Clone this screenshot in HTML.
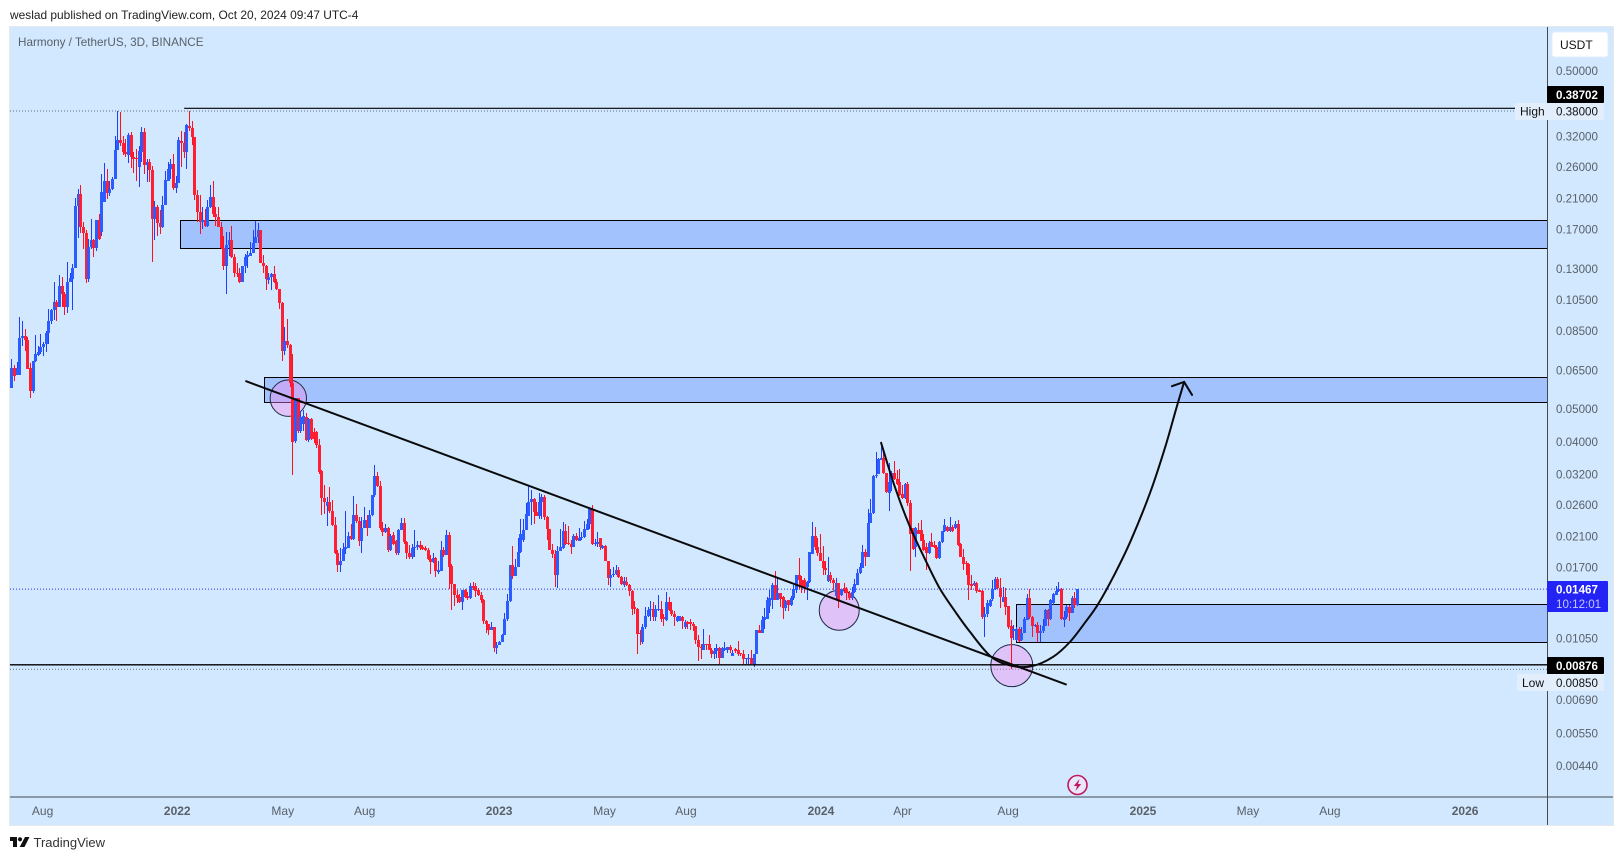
<!DOCTYPE html>
<html lang="en">
<head>
<meta charset="utf-8">
<title>Harmony / TetherUS chart</title>
<style>
html,body{margin:0;padding:0;background:#fff;width:1623px;height:860px;overflow:hidden}
svg{display:block;font-family:"Liberation Sans",sans-serif}
</style>
</head>
<body>
<svg id="chart" width="1623" height="860" viewBox="0 0 1623 860" xmlns="http://www.w3.org/2000/svg">
  <defs><clipPath id="pane"><rect x="10" y="27" width="1537" height="770"/></clipPath></defs>
  <rect x="0" y="0" width="1623" height="860" fill="#ffffff"/>
  <text x="10" y="19" font-size="11.93" fill="#222">weslad published on TradingView.com, Oct 20, 2024 09:47 UTC-4</text>
  <rect x="9.5" y="26.5" width="1604" height="799" fill="#d1e8ff" stroke="#e6e8ea" stroke-width="1"/>
  <g id="pane-layer" clip-path="url(#pane)"></g>
  <text x="18" y="46" font-size="11.7" fill="#5a6068">Harmony / TetherUS, 3D, BINANCE</text>
  <line x1="10" y1="797" x2="1613" y2="797" stroke="#444a52" stroke-width="1"/>
  <line x1="1547.5" y1="27" x2="1547.5" y2="825" stroke="#444a52" stroke-width="1"/>
  <g id="axis-layer"></g>
  <rect x="1552" y="32" width="56" height="25" rx="3" fill="#ffffff" stroke="#e4eefb"/>
  <text x="1560" y="49" font-size="12" fill="#111">USDT</text>

  <rect x="1547" y="86" width="57" height="17" fill="#000" rx="1"/>
  <text x="1556" y="99" font-size="11.6" font-weight="bold" fill="#fff">0.38702</text>
  <rect x="1515" y="103" width="89" height="17" fill="#e3eefd"/>
  <text x="1520" y="115.5" font-size="12" fill="#111">High</text>
  <text x="1556" y="115.5" font-size="11.6" fill="#111">0.38000</text>

  <rect x="1547" y="581" width="61" height="31" fill="#2323f5" rx="1"/>
  <text x="1556" y="593.5" font-size="11.6" font-weight="bold" fill="#fff">0.01467</text>
  <text x="1556" y="608" font-size="11.6" fill="#c3c8ff">10:12:01</text>

  <rect x="1547" y="657" width="57" height="17" fill="#000" rx="1"/>
  <text x="1556" y="670" font-size="11.6" font-weight="bold" fill="#fff">0.00876</text>
  <rect x="1517" y="674" width="87" height="17" fill="#e3eefd"/>
  <text x="1522" y="687" font-size="12" fill="#111">Low</text>
  <text x="1556" y="687" font-size="11.6" fill="#111">0.00850</text>

  <g>
    <circle cx="1077.5" cy="785" r="9.5" fill="#e8e6fb" stroke="#c2185b" stroke-width="1.6"/>
    <path d="M1079.5 779 L1073.8 786 L1077 786 L1075.5 791 L1081.2 784 L1078 784 Z" fill="#c2185b"/>
  </g>

  <g>
    <path d="M10 837 H17 V847 H13 V841 H10 Z" fill="#111"/>
    <circle cx="20" cy="839.3" r="2.1" fill="#111"/>
    <path d="M25 837 H29.5 L24.5 847 H19.7 Z" fill="#111"/>
    <text x="33.5" y="847" font-size="13" fill="#333">TradingView</text>
  </g>
</svg>
<script>
const opens=[
.0575,.0660,.0630,.0630,.0809,.0820,.0797,.0660,.0566,.0695,
.0720,.0735,.0760,.0777,.0837,.0909,.0979,.1034,.1003,.1155,
.1093,.0999,.1185,.1212,.1305,.1994,.2156,.1722,.1655,.1209,
.1507,.1578,.1500,.1810,.1670,.2050,.2360,.2170,.2230,.2388,
.2908,.3112,.3050,.2880,.2815,.3230,.2770,.2755,.2600,.2880,
.3290,.2625,.2680,.2544,.1820,.1975,.1770,.1722,.2000,.2360,
.2555,.2650,.2245,.2323,.3105,.3065,.2880,.3440,.3385,.3175,
.2145,.1908,.1790,.1810,.1740,.1975,.2110,.1886,.1845,.1730,
.1500,.1325,.1530,.1578,.1405,.1265,.1260,.1188,.1320,.1405,
.1415,.1445,.1550,.1610,.1685,.1350,.1325,.1204,.1226,.1253,
.1188,.1130,.1026,.0740,.0795,.0775,.0596,.0403,.0537,.0429,
.0452,.0473,.0405,.0466,.0427,.0427,.0392,.0327,.0272,.0258,
.0266,.0249,.0227,.0188,.0173,.0177,.0193,.0194,.0211,.0206,
.0243,.0233,.0203,.0222,.0235,.0223,.0243,.0278,.0316,.0295,
.0222,.0216,.0222,.0191,.0212,.0203,.0187,.0219,.0230,.0202,
.0187,.0182,.0194,.0195,.0198,.0195,.0194,.0191,.0180,.0176,
.0181,.0165,.0166,.0192,.0185,.0212,.0172,.0152,.0141,.0139,
.0134,.0146,.0140,.0138,.0150,.0150,.0146,.0141,.0136,.0118,
.0116,.0111,.0113,.0098,.0100,.0102,.0107,.0120,.0135,.0173,
.0160,.0171,.0189,.0205,.0219,.0242,.0266,.0271,.0248,.0242,
.0265,.0275,.0239,.0221,.0192,.0186,.0161,.0190,.0194,.0218,
.0201,.0200,.0195,.0210,.0204,.0207,.0209,.0220,.0228,.0253,
.0199,.0200,.0207,.0194,.0197,.0178,.0158,.0161,.0163,.0167,
.0159,.0151,.0154,.0151,.0145,.0130,.0128,.0109,.0102,.0113,
.0122,.0127,.0128,.0121,.0127,.0128,.0121,.0119,.0134,.0127,
.0124,.0118,.0118,.0121,.0113,.0117,.0117,.0116,.0114,.0104,
.0099,.0097,.0101,.0101,.0097,.0094,.0096,.0098,.0092,.0097,
.0097,.0099,.0093,.00975,.0097,.0095,.0094,.0091,.0091,.0092,
.0088,.0094,.0111,.0109,.0119,.0120,.0131,.0136,.0151,.0136,
.0143,.0139,.0129,.0136,.0132,.0138,.0146,.0161,.0156,.0156,
.0149,.0154,.0186,.0211,.0195,.0188,.0177,.0169,.0155,.0161,
.0156,.0140,.0153,.0141,.0148,.0147,.0143,.0138,.0144,.0151,
.0164,.0169,.0189,.0183,.0230,.0247,.0317,.0322,.0354,.0358,
.0323,.0283,.0305,.0324,.0310,.0305,.0281,.0272,.0300,.0263,
.0222,.0196,.0220,.0220,.0205,.0195,.0187,.0202,.0198,.0196,
.0181,.0202,.0218,.0224,.0218,.0224,.0222,.0229,.0199,.0183,
.0175,.0174,.0152,.0151,.0153,.0146,.0145,.0121,.0124,.0131,
.0137,.0147,.0157,.0148,.0134,.0139,.0131,.0114,.0110,.0104,
.0112,.0104,.0109,.0119,.0138,.0121,.0114,.0115,.0109,.0110,
.0114,.0127,.0120,.0133,.0141,.0145,.0147,.0119,.0121,.0130,
.0125,.0138,.0132];
const closes=[
.0660,.0625,.0660,.0809,.0820,.0797,.0658,.0566,.0695,.0726,
.0735,.0760,.0777,.0837,.0909,.0979,.1034,.1003,.1155,.1093,
.0999,.1185,.1218,.1305,.1994,.2156,.1722,.1655,.1209,.1507,
.1578,.1500,.1810,.1585,.2185,.2360,.2170,.2230,.2388,.2908,
.3112,.3050,.2880,.2830,.3230,.2770,.2740,.2740,.2890,.3290,
.2625,.2680,.2544,.1820,.1975,.1770,.1722,.2000,.2377,.2555,
.2650,.2245,.2323,.3112,.3060,.2880,.3455,.3385,.3175,.2145,
.1908,.1790,.1810,.1740,.1975,.2110,.1886,.1845,.1730,.1500,
.1325,.1530,.1578,.1405,.1265,.1253,.1188,.1325,.1405,.1425,
.1445,.1550,.1610,.1685,.1350,.1325,.1209,.1226,.1253,.1188,
.1130,.1026,.0740,.0795,.0775,.0596,.0400,.0537,.0429,.0473,
.0475,.0405,.0466,.0407,.0407,.0392,.0326,.0272,.0266,.0266,
.0249,.0227,.0188,.0173,.0177,.0193,.0195,.0211,.0206,.0243,
.0233,.0203,.0222,.0235,.0223,.0243,.0278,.0316,.0295,.0222,
.0216,.0222,.0191,.0211,.0200,.0187,.0219,.0230,.0202,.0187,
.0182,.0194,.0196,.0198,.0194,.0193,.0191,.0180,.0176,.0181,
.0166,.0167,.0192,.0185,.0212,.0171,.0152,.0141,.0138,.0134,
.0146,.0139,.0138,.0150,.0148,.0145,.0141,.0136,.0118,.0116,
.0111,.0113,.0098,.0100,.0102,.0107,.0120,.0135,.0173,.0160,
.0171,.0189,.0213,.0219,.0244,.0266,.0271,.0248,.0242,.0265,
.0275,.0239,.0221,.0192,.0186,.0161,.0190,.0195,.0218,.0200,
.0200,.0195,.0210,.0205,.0207,.0209,.0221,.0229,.0253,.0199,
.0201,.0202,.0195,.0197,.0178,.0158,.0161,.0163,.0167,.0159,
.0152,.0155,.0151,.0145,.0128,.0128,.0108,.0108,.0113,.0122,
.0127,.0128,.0121,.0128,.0128,.0120,.0120,.0134,.0127,.0124,
.0121,.0121,.0122,.0118,.0117,.0116,.0116,.0114,.0104,.0099,
.0098,.0101,.0100,.0097,.0094,.0096,.0098,.0092,.0098,.0098,
.0099,.0097,.0095,.00965,.0094,.0094,.0091,.0092,.0092,.0088,
.0094,.0111,.0109,.0119,.0121,.0136,.0138,.0151,.0136,.0143,
.0137,.0129,.0135,.0132,.0138,.0147,.0161,.0156,.0149,.0149,
.0154,.0189,.0211,.0195,.0187,.0177,.0169,.0167,.0161,.0156,
.0153,.0153,.0135,.0147,.0146,.0143,.0138,.0144,.0152,.0164,
.0170,.0189,.0183,.0230,.0247,.0317,.0320,.0356,.0358,.0323,
.0284,.0305,.0324,.0310,.0301,.0278,.0272,.0300,.0263,.0213,
.0193,.0222,.0213,.0204,.0191,.0187,.0201,.0196,.0196,.0181,
.0202,.0218,.0227,.0218,.0224,.0218,.0229,.0198,.0183,.0174,
.0174,.0151,.0150,.0153,.0145,.0144,.0121,.0124,.0133,.0136,
.0147,.0157,.0148,.0139,.0139,.0130,.0113,.0105,.0112,.0112,
.0103,.0109,.0120,.0138,.0121,.0114,.0115,.0109,.0110,.0114,
.0127,.0120,.0136,.0142,.0145,.0147,.0120,.0121,.0130,.0125,
.0138,.0132,.01467];
const highs=[
.0701,.0675,.0690,.0936,.0911,.0862,.0815,.0682,.0695,.0828,
.0767,.0833,.0788,.0850,.0985,.0985,.1188,.1050,.1245,.1226,
.1111,.1359,.1265,.1345,.2098,.2235,.2300,.1790,.1691,.1590,
.1820,.1585,.1810,.1886,.2470,.2660,.2560,.2360,.2420,.3205,
.3800,.3767,.3205,.3140,.3270,.3300,.2880,.2930,.2985,.3400,
.3385,.2735,.2740,.2620,.2060,.2000,.1938,.2130,.2530,.2680,
.2735,.2835,.2440,.3190,.3320,.3300,.3490,.3800,.3560,.3190,
.2220,.2150,.1975,.1950,.2074,.2300,.2360,.1980,.1975,.1790,
.1618,.1672,.1672,.1737,.1440,.1350,.1305,.1325,.1440,.1470,
.1562,.1691,.1797,.1777,.1691,.1425,.1335,.1265,.1265,.1325,
.1209,.1135,.1034,.0873,.0922,.0780,.0727,.0537,.0537,.0493,
.0495,.0488,.0470,.0470,.0440,.0430,.0407,.0330,.0298,.0275,
.0293,.0269,.0240,.0191,.0194,.0201,.0250,.0216,.0229,.0277,
.0262,.0240,.0239,.0256,.0243,.0252,.0278,.0342,.0325,.0307,
.0231,.0228,.0224,.0213,.0217,.0205,.0221,.0238,.0238,.0203,
.0198,.0200,.0219,.0204,.0203,.0198,.0197,.0194,.0185,.0187,
.0182,.0177,.0204,.0196,.0219,.0217,.0174,.0152,.0146,.0142,
.0146,.0147,.0144,.0153,.0154,.0153,.0148,.0144,.0137,.0119,
.0116,.0117,.0113,.0102,.0103,.0108,.0125,.0142,.0173,.0197,
.0180,.0208,.0236,.0236,.0263,.0297,.0288,.0272,.0265,.0282,
.0280,.0278,.0242,.0221,.0200,.0192,.0197,.0221,.0232,.0228,
.0225,.0205,.0213,.0215,.0223,.0216,.0233,.0236,.0253,.0260,
.0206,.0217,.0207,.0198,.0198,.0178,.0168,.0170,.0173,.0170,
.0160,.0159,.0159,.0152,.0146,.0135,.0129,.0111,.0116,.0130,
.0130,.0135,.0134,.0132,.0141,.0135,.0124,.0144,.0139,.0134,
.0126,.0122,.0122,.0122,.0119,.0118,.0120,.0117,.0114,.0107,
.0101,.0112,.0101,.0107,.0098,.0098,.0101,.0099,.0099,.0102,
.0099,.0100,.0097,.0098,.0103,.0095,.0097,.0092,.0094,.0097,
.0094,.0111,.0115,.0122,.0129,.0139,.0146,.0153,.0166,.0158,
.0143,.0140,.0136,.0136,.0140,.0151,.0162,.0181,.0160,.0158,
.0155,.0189,.0232,.0224,.0207,.0213,.0197,.0178,.0183,.0165,
.0158,.0158,.0153,.0147,.0153,.0149,.0145,.0149,.0157,.0168,
.0175,.0198,.0193,.0253,.0270,.0320,.0374,.0358,.0396,.0378,
.0324,.0346,.0327,.0351,.0330,.0332,.0298,.0302,.0304,.0269,
.0222,.0224,.0230,.0234,.0213,.0201,.0204,.0215,.0204,.0198,
.0203,.0218,.0236,.0225,.0239,.0227,.0233,.0234,.0201,.0193,
.0177,.0175,.0162,.0155,.0154,.0146,.0146,.0130,.0136,.0137,
.0156,.0159,.0159,.0158,.0149,.0148,.0131,.0119,.0115,.0113,
.0113,.0113,.0121,.0142,.0147,.0122,.0116,.0117,.0115,.0120,
.0128,.0128,.0137,.0143,.0150,.0154,.0148,.0126,.0132,.0132,
.0140,.0144,.01467];
const lows=[
.0575,.0606,.0630,.0630,.0767,.0744,.0655,.0537,.0556,.0690,
.0717,.0727,.0717,.0738,.0778,.0892,.0917,.0907,.1003,.1003,
.0948,.0963,.1185,.0981,.1305,.1605,.1655,.1483,.1175,.1190,
.1483,.1405,.1470,.1580,.1622,.2050,.2090,.2130,.2220,.2388,
.2908,.3000,.2815,.2770,.2670,.2570,.2500,.2365,.2270,.2690,
.2470,.2350,.2340,.1355,.1575,.1622,.1640,.1715,.2000,.2360,
.2388,.2220,.2180,.2323,.2590,.2755,.2555,.3325,.3015,.2074,
.1790,.1645,.1707,.1728,.1722,.1960,.1845,.1737,.1722,.1483,
.1288,.1093,.1415,.1398,.1230,.1230,.1180,.1188,.1260,.1305,
.1415,.1445,.1550,.1550,.1350,.1260,.1124,.1170,.1120,.1180,
.1124,.0987,.0695,.0722,.0757,.0580,.0320,.0396,.0424,.0424,
.0430,.0403,.0400,.0405,.0396,.0382,.0322,.0243,.0245,.0225,
.0247,.0226,.0186,.0165,.0165,.0177,.0186,.0194,.0205,.0205,
.0230,.0197,.0188,.0222,.0210,.0222,.0241,.0275,.0294,.0220,
.0210,.0215,.0189,.0190,.0198,.0185,.0185,.0219,.0200,.0180,
.0180,.0180,.0182,.0192,.0192,.0191,.0190,.0179,.0163,.0175,
.0159,.0163,.0166,.0182,.0185,.01465,.01274,.0131,.0133,.0133,
.01274,.0138,.01364,.0137,.0146,.0139,.0140,.0133,.0116,.0109,
.0107,.0111,.00955,.00940,.0100,.0102,.0107,.0118,.0134,.0157,
.0160,.0171,.0187,.0202,.0219,.0241,.0227,.0229,.0242,.0236,
.0236,.0235,.0205,.0191,.0181,.0149,.0148,.0190,.0193,.0198,
.0198,.0186,.0195,.0204,.0203,.0205,.0207,.0219,.0221,.0198,
.0197,.0195,.0192,.0193,.0177,.0151,.0149,.0159,.0161,.0158,
.0151,.0149,.0150,.0140,.0123,.0124,.0094,.0100,.0101,.0112,
.0121,.0118,.0118,.0118,.0126,.0117,.0114,.0118,.0126,.0122,
.0114,.0117,.0118,.0112,.0112,.0112,.0111,.0110,.0101,.0090,
.0091,.0097,.0097,.0097,.0092,.0091,.0092,.0088,.0092,.0096,
.0095,.0095,.0093,.0095,.0093,.0093,.0088,.0088,.0088,.0088,
.00865,.0094,.0109,.0109,.0112,.0120,.0125,.0128,.0136,.0136,
.0130,.0120,.0126,.0126,.0131,.0136,.0143,.0147,.0143,.0143,
.0136,.0153,.0186,.0191,.0184,.0177,.0161,.0162,.0154,.0153,
.0146,.0136,.0129,.0140,.0143,.0136,.0136,.0136,.0143,.0151,
.0163,.0169,.0172,.0183,.0230,.0244,.0312,.0322,.0354,.0322,
.0282,.0250,.0286,.0309,.0298,.0277,.0270,.0270,.0258,.0166,
.0192,.0182,.0213,.0203,.0190,.0167,.0186,.0195,.0194,.0180,
.0180,.0201,.0216,.0216,.0216,.0216,.0221,.0197,.0182,.0167,
.0161,.0136,.0146,.0150,.0143,.0144,.0120,.0106,.0121,.0130,
.0135,.0146,.0147,.0129,.0134,.0123,.0112,.0085,.0104,.0103,
.0102,.0103,.0109,.0119,.0120,.0106,.0113,.0102,.0102,.0109,
.0114,.0114,.0119,.0132,.0141,.0144,.0119,.0113,.0120,.0118,
.0125,.0129,.0131];

const priceTickLabels=["0.50000","0.32000","0.26000","0.21000","0.17000","0.13000","0.10500","0.08500","0.06500","0.05000","0.04000","0.03200","0.02600","0.02100","0.01700","0.01050","0.00690","0.00550","0.00440"];
const timeLabels=["Aug","2022","May","Aug","2023","May","Aug","2024","Apr","Aug","2025","May","Aug","2026"];
const timeLabelBars=[11.8,62.6,102.4,133.3,184,223.8,254.5,305.4,336.2,376,426.9,466.5,497.4,548.4];

const highPrice=0.38;
const lowPrice=0.0085;
const lastPrice=0.01467;
const highLinePrice=0.38702;
const lowLinePrice=0.00876;
const highLineStartBar=65.2;

const zoneStartBars=[63.75,95.4,379.1];
const zoneTopPrices=[0.1806,0.0620,0.01328];
const zoneBottomPrices=[0.1494,0.0523,0.0102];

const circleBars=[104.5,312.3,377.4];
const circlePrices=[0.0538,0.0127,0.00871];
const circleRadii=[18.2,20,21];

const trendBars=[88.3,398.1];
const trendPrices=[0.0605,0.00765];

const curveBars=[328.1,333.3,339,345.4,350.3,356,361.6,369.5,377.1,385,393,399.4,405,410,416.4,422.4,429.6,435.2,439.3,442.4];
const curvePrices=[.0397,.0294,.0224,.0175,.0147,.0126,.01097,.00927,.00871,.00868,.00925,.01025,.01167,.01326,.01635,.0205,.0283,.0384,.0497,.0601];
const arrowWingBars=[437.8,445.4];
const arrowWingPrices=[0.0584,0.0550];

const X0=11.3, BAR_STEP=2.651, Y_REF=70.7, P_REF=0.5, PX_PER_LN=146.9;
function xOf(bar){return X0+bar*BAR_STEP;}
function yOf(price){return Y_REF+PX_PER_LN*Math.log(P_REF/price);}

const NS="http://www.w3.org/2000/svg";
const pane=document.getElementById("pane-layer");
const axes=document.getElementById("axis-layer");
function make(tag,attrs,parent){
  const el=document.createElementNS(NS,tag);
  for(const k in attrs){el.setAttribute(k,attrs[k]);}
  parent.appendChild(el);
  return el;
}

// dotted price lines
[[highPrice,"#5d6d85","high-dotted-line"],[lowPrice,"#5d6d85","low-dotted-line"],[lastPrice,"#2a2eff","last-price-dotted-line"]].forEach(function(d){
  const el=make("line",{x1:10,x2:1547,y1:yOf(d[0]),y2:yOf(d[0]),stroke:d[1],"stroke-width":1,"stroke-dasharray":"1 2"},pane);
  
  
});

// zones
zoneStartBars.forEach(function(b,i){
  const yT=Math.round(yOf(zoneTopPrices[i]))+.5, yB=Math.round(yOf(zoneBottomPrices[i]))+.5, x=Math.round(xOf(b))+.5;
  const el=make("rect",{x:x,y:yT,width:1700-x,height:yB-yT,fill:"#a1c2fd",stroke:"#000","stroke-width":1},pane);
  
  
});

// circles
circleBars.forEach(function(b,i){
  const el=make("circle",{cx:xOf(b),cy:yOf(circlePrices[i]),r:circleRadii[i],fill:"rgba(244,137,237,.4)",stroke:"#1f2a44","stroke-width":1},pane);
  
  
});

// candles
closes.forEach(function(c,i){
  const up=c>=opens[i];
  const cx=Math.round(xOf(i));
  const yTop=Math.round(yOf(Math.max(opens[i],c)));
  const yBot=Math.round(yOf(Math.min(opens[i],c)));
  const g=make("g",{"shape-rendering":"crispEdges"},pane);
  
  
  const yH=Math.round(yOf(highs[i])), yL=Math.round(yOf(lows[i]));
  make("rect",{x:cx,y:yH,width:1,height:Math.max(1,yL-yH),fill:up?"#1f3fff":"#ff0f1f"},g);
  make("rect",{x:cx-1,y:yTop,width:3,height:Math.max(1,yBot-yTop),fill:up?"#2a5cff":"#ff1f33"},g);
});

// horizontal black lines
const highLine=make("line",{x1:xOf(highLineStartBar),x2:1547,y1:yOf(highLinePrice),y2:yOf(highLinePrice),stroke:"#000","stroke-width":1.2},pane);


const lowLine=make("line",{x1:10,x2:1547,y1:yOf(lowLinePrice),y2:yOf(lowLinePrice),stroke:"#000","stroke-width":1.4},pane);



// trend line
const trend=make("line",{x1:xOf(trendBars[0]),y1:yOf(trendPrices[0]),x2:xOf(trendBars[1]),y2:yOf(trendPrices[1]),stroke:"#0a0a0a","stroke-width":2},pane);



// projection curve (Catmull-Rom through the points)
const pts=curveBars.map(function(b,i){return [xOf(b),yOf(curvePrices[i])];});
let d="M"+pts[0][0]+" "+pts[0][1];
for(let i=0;i<pts.length-1;i++){
  const p0=pts[Math.max(0,i-1)],p1=pts[i],p2=pts[i+1],p3=pts[Math.min(pts.length-1,i+2)];
  d+=" C"+(p1[0]+(p2[0]-p0[0])/6)+" "+(p1[1]+(p2[1]-p0[1])/6)+" "+(p2[0]-(p3[0]-p1[0])/6)+" "+(p2[1]-(p3[1]-p1[1])/6)+" "+p2[0]+" "+p2[1];
}
const curve=make("path",{d:d,fill:"none",stroke:"#0a0a0a","stroke-width":2,"stroke-linecap":"round"},pane);


const tip=pts[pts.length-1];
arrowWingBars.forEach(function(b,i){
  const w=make("line",{x1:tip[0],y1:tip[1],x2:xOf(b),y2:yOf(arrowWingPrices[i]),stroke:"#0a0a0a","stroke-width":2,"stroke-linecap":"round"},pane);
  
  
});

// price ticks
priceTickLabels.forEach(function(t){
  const el=make("text",{x:1556,y:yOf(parseFloat(t))+4.2,"font-size":11.6,fill:"#5a6068"},axes);
  
  
  el.textContent=t;
});

// time ticks
timeLabels.forEach(function(t,i){
  const isYear=/^\d+$/.test(t);
  const el=make("text",{x:xOf(timeLabelBars[i]),y:815,"font-size":12,"text-anchor":"middle",fill:"#5a6068","font-weight":isYear?"bold":"normal"},axes);
  
  
  el.textContent=t;
});
</script>
</body>
</html>
